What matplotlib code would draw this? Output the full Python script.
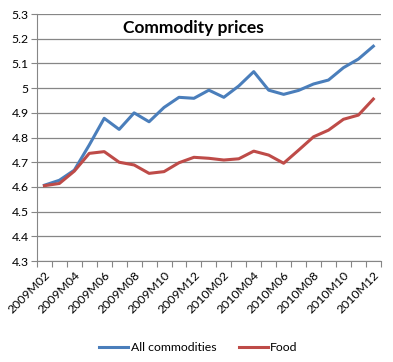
import matplotlib
matplotlib.use("Agg")
import matplotlib.pyplot as plt
import numpy as np

months = ["2009M02", "2009M03", "2009M04", "2009M05", "2009M06", "2009M07",
          "2009M08", "2009M09", "2009M10", "2009M11", "2009M12", "2010M01",
          "2010M02", "2010M03", "2010M04", "2010M05", "2010M06", "2010M07",
          "2010M08", "2010M09", "2010M10", "2010M11", "2010M12"]
all_commodities = [4.607, 4.627, 4.668, 4.770, 4.878, 4.833, 4.900, 4.864,
                   4.922, 4.963, 4.959, 4.992, 4.963, 5.009, 5.067, 4.992,
                   4.975, 4.991, 5.017, 5.033, 5.083, 5.118, 5.170]
food = [4.605, 4.614, 4.664, 4.736, 4.743, 4.700, 4.689, 4.655, 4.662,
        4.698, 4.720, 4.716, 4.709, 4.714, 4.745, 4.729, 4.696, 4.749,
        4.803, 4.830, 4.874, 4.891, 4.956]

plt.rcParams['font.family'] = ['Lato', 'DejaVu Sans']

fig = plt.figure(figsize=(3.93, 3.62), dpi=100)
ax = fig.add_axes([0.094, 0.279, 0.875, 0.682])

x = np.arange(len(months))
ax.plot(x, all_commodities, color='#4A7EBB', lw=2.2, label='All commodities')
ax.plot(x, food, color='#BE4B48', lw=2.2, label='Food')

ax.set_xlim(-0.5, len(months) - 0.5)
ax.set_ylim(4.3, 5.3)
yt = np.round(np.arange(4.3, 5.31, 0.1), 1)
ax.set_yticks(yt)
ax.set_yticklabels([f"{v:g}" for v in yt], fontsize=8.8)
ax.yaxis.grid(True, color='#868686', lw=0.9)
ax.set_axisbelow(True)

# category ticks sit between the categories, labels every other month
ax.set_xticks(np.arange(-0.5, len(months), 1.0))
ax.set_xticklabels([])
ax.set_xticks(x[::2], minor=True)
ax.set_xticklabels(months[::2], minor=True, rotation=45, ha='right',
                   va='top', rotation_mode='anchor', fontsize=8.8)
ax.tick_params(axis='x', which='minor', length=0, pad=6)
ax.tick_params(axis='x', which='major', length=4, color='#868686')
ax.tick_params(axis='y', length=4, color='#868686', pad=2)

for side in ['top', 'right']:
    ax.spines[side].set_visible(False)
for side in ['left', 'bottom']:
    ax.spines[side].set_color('#868686')

ax.text(0.455, 0.975, 'Commodity prices', transform=ax.transAxes,
        ha='center', va='top', fontsize=12.5, fontweight='bold')

fig.legend(loc='center', bbox_to_anchor=(0.505, 0.04), ncol=2, frameon=False,
           fontsize=8.8, handlelength=2.4, columnspacing=1.8, handletextpad=0.2)

fig.savefig('out.png', dpi=100, facecolor='white')
